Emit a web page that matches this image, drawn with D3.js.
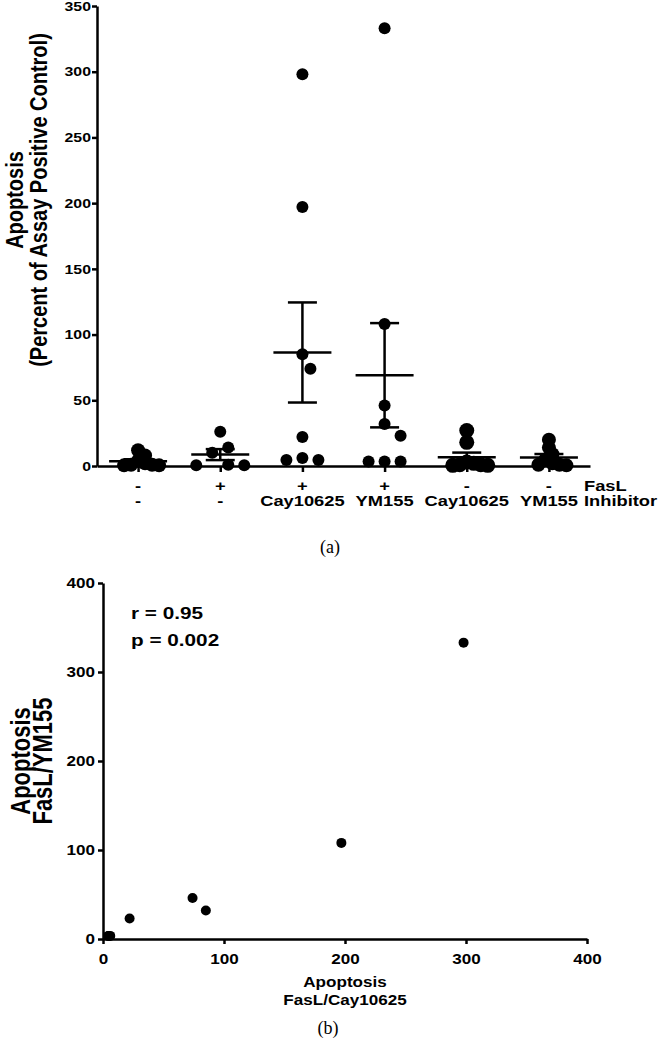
<!DOCTYPE html>
<html>
<head>
<meta charset="utf-8">
<script src="https://cdn.jsdelivr.net/npm/d3@7"></script>
<style>body{margin:0;background:#fff}</style>
</head>
<body>
<svg id="fig" width="664" height="1050"></svg>
<script>
// groups along the x axis of panel (a)
const groupIds = ["ctrl", "fasl", "faslCay", "faslYM", "cay", "ym"];
const faslRow = ["-", "+", "+", "+", "-", "-"];
const inhibRow = ["-", "-", "Cay10625", "YM155", "Cay10625", "YM155"];
const rowNames = ["FasL", "Inhibitor"];

// apoptosis, percent of assay positive control
const ctrlVals = [12, 8, 4, 2, 1, 1, 0.5, 0.5];
const faslVals = [26, 14, 10, 1, 0.5, 0.5];
const faslCayVals = [298, 197, 85, 74, 22, 6, 4.5, 4.5];
const faslYMVals = [333, 108, 32, 46, 23, 3.5, 3.5, 3.5];   // same sample order as faslCayVals
const cayVals = [27, 18, 3, 2, 1, 1, 0.5, 0.5];
const ymVals = [20, 14, 9, 5, 2, 1, 1, 0.5];
const groupVals = [ctrlVals, faslVals, faslCayVals, faslYMVals, cayVals, ymVals];

const topTicks = [0, 50, 100, 150, 200, 250, 300, 350];
const scatterTicks = [0, 100, 200, 300, 400];
const statsText = ["r = 0.95", "p = 0.002"];

const FONT = "'Liberation Sans', Arial, sans-serif";
const SX = 1.22;   // the figure is stretched sideways
const dotR = [7, 6, 6, 6, 7.5, 7];
const dotSep = [7, 16, 16, 16, 7, 7];

const svg = d3.select("#fig");

function styleAxis(g, size) {
    g.select(".domain").attr("stroke", "#000").attr("stroke-width", 2.5);
    g.selectAll(".tick line").attr("stroke", "#000").attr("stroke-width", 2.5);
    g.selectAll(".tick text")
        .attr("fill", "#000")
        .style("font-family", FONT)
        .style("font-weight", "bold")
        .style("font-size", size + "px")
        .each(function() {
            let t = d3.select(this);
            let x = +t.attr("x") || 0;
            t.attr("x", x / SX).attr("transform", `scale(${SX},1)`);
        });
}

function label(x, y, txt, size, anchor) {
    return svg.append("text")
        .attr("transform", `translate(${x},${y}) scale(${SX},1)`)
        .attr("text-anchor", anchor || "middle")
        .style("font-family", FONT)
        .style("font-weight", "bold")
        .style("font-size", size + "px")
        .text(txt);
}

function vLabel(x, y, txt, size) {
    svg.append("text")
        .attr("transform", `translate(${x},${y}) rotate(-90) scale(1,${SX})`)
        .attr("text-anchor", "middle")
        .attr("dy", "0.35em")
        .style("font-family", FONT)
        .style("font-weight", "bold")
        .style("font-size", size + "px")
        .text(txt);
}

// simple beeswarm: keep dots of one group from piling on each other
function swarm(vals, scale, sep) {
    let placed = [];
    let step = sep / 2;
    let order = vals.map((v, i) => i).sort((a, b) => vals[b] - vals[a]);
    order.forEach(i => {
        let py = scale(vals[i]);
        for (let k = 0; k < 40; k++) {
            let dx = (k % 2 ? 1 : -1) * Math.ceil(k / 2) * step;
            let hit = placed.some(p => (p.dx - dx) ** 2 + (p.py - py) ** 2 < sep * sep - 0.01);
            if (!hit) { placed.push({v: vals[i], dx: dx, py: py}); break; }
        }
    });
    return placed;
}

// ---------- panel (a) ----------
let yTop = d3.scaleLinear().domain([0, 350]).range([466, 6]);
let xTop = d3.scalePoint().domain(groupIds).range([97, 590]).padding(0.5);

let yAxA = svg.append("g")
    .attr("transform", "translate(97,0)")
    .call(d3.axisLeft(yTop).tickValues(topTicks).tickSize(5).tickSizeOuter(0).tickPadding(1));
styleAxis(yAxA, 13);

let xAxA = svg.append("g")
    .attr("transform", "translate(0,466)")
    .call(d3.axisBottom(xTop).tickSize(6).tickSizeOuter(0).tickFormat(""));
styleAxis(xAxA, 13);

groupIds.forEach((id, i) => {
    let pts = swarm(groupVals[i], yTop, dotSep[i]);
    svg.append("g").selectAll("circle")
        .data(pts)
        .enter()
        .append("circle")
        .attr("cx", d => xTop(id) + d.dx)
        .attr("cy", d => yTop(d.v))
        .attr("r", dotR[i])
        .attr("fill", "#000");
});

// mean and SEM for every group
groupIds.forEach((id, i) => {
    let vals = groupVals[i];
    let m = d3.mean(vals);
    let sem = d3.deviation(vals) / Math.sqrt(vals.length);
    let cx = xTop(id);
    let g = svg.append("g").attr("stroke", "#000").attr("stroke-width", 2.5);
    g.append("line").attr("x1", cx - 29).attr("x2", cx + 29).attr("y1", yTop(m)).attr("y2", yTop(m));
    g.append("line").attr("x1", cx).attr("x2", cx).attr("y1", yTop(m - sem)).attr("y2", yTop(m + sem));
    [m - sem, m + sem].forEach(v => {
        g.append("line").attr("x1", cx - 14.5).attr("x2", cx + 14.5).attr("y1", yTop(v)).attr("y2", yTop(v));
    });
});

faslRow.forEach((s, i) => label(xTop(groupIds[i]), 491, s, 15));
inhibRow.forEach((s, i) => label(xTop(groupIds[i]), 506, s, 15));
label(584, 491, rowNames[0], 15, "start");
label(584, 506, rowNames[1], 15, "start");

vLabel(14, 200, "Apoptosis", 20);
vLabel(38, 200, "(Percent of Assay Positive Control)", 20);

svg.append("text")
    .attr("x", 330).attr("y", 553)
    .attr("text-anchor", "middle")
    .style("font-family", "'Liberation Serif', 'Times New Roman', serif")
    .style("font-size", "18px")
    .text("(a)");

// ---------- panel (b) ----------
let xB = d3.scaleLinear().domain([0, 400]).range([103, 587]);
let yB = d3.scaleLinear().domain([0, 400]).range([939, 583]);

let yAxB = svg.append("g")
    .attr("transform", "translate(103,0)")
    .call(d3.axisLeft(yB).tickValues(scatterTicks).tickSize(5).tickSizeOuter(0).tickPadding(3));
styleAxis(yAxB, 14);

let xAxB = svg.append("g")
    .attr("transform", "translate(0,939)")
    .call(d3.axisBottom(xB).tickValues(scatterTicks).tickSize(5).tickSizeOuter(0).tickPadding(10));
styleAxis(xAxB, 14);

svg.append("g").selectAll("circle")
    .data(faslCayVals.map((v, i) => [v, faslYMVals[i]]))
    .enter()
    .append("circle")
    .attr("cx", d => xB(d[0]))
    .attr("cy", d => yB(d[1]))
    .attr("r", 5)
    .attr("fill", "#000");

label(131, 619, statsText[0], 17, "start");
label(131, 646, statsText[1], 17, "start");

label(345, 987, "Apoptosis", 14);
label(345, 1005, "FasL/Cay10625", 14);

vLabel(21, 761, "Apoptosis", 22);
vLabel(43, 761, "FasL/YM155", 22);

svg.append("text")
    .attr("x", 328).attr("y", 1034)
    .attr("text-anchor", "middle")
    .style("font-family", "'Liberation Serif', 'Times New Roman', serif")
    .style("font-size", "18px")
    .text("(b)");
</script>
</body>
</html>
